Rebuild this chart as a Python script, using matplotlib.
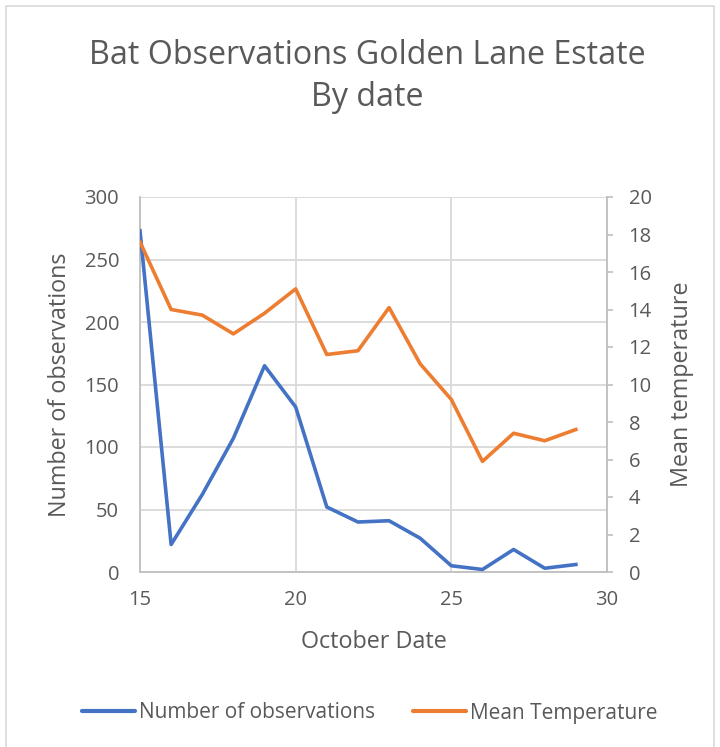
import matplotlib
matplotlib.use("Agg")
import matplotlib.pyplot as plt
from matplotlib.patches import Rectangle
from matplotlib.lines import Line2D

plt.rcParams['font.family'] = ['Open Sans', 'DejaVu Sans']

dates = [15, 16, 17, 18, 19, 20, 21, 22, 23, 24, 25, 26, 27, 28, 29]
observations = [273, 22, 62, 107, 165, 132, 52, 40, 41, 27, 5, 2, 18, 3, 6]
mean_temp = [17.6, 14.0, 13.7, 12.7, 13.8, 15.1, 11.6, 11.8, 14.1, 11.1, 9.2, 5.9, 7.4, 7.0, 7.6]
x_ticks = [15, 20, 25, 30]
left_ticks = [0, 50, 100, 150, 200, 250, 300]
right_ticks = [0, 2, 4, 6, 8, 10, 12, 14, 16, 18, 20]

BLUE = '#4472C4'
ORANGE = '#ED7D31'
TXT = '#595959'
GRID = '#D9D9D9'
SPINE = '#BFBFBF'
fs = 14.5
fs_lab = 16.8
fs_leg = 15

fig = plt.figure(figsize=(7.2, 7.47), dpi=100)
fig.patches.append(Rectangle((6/720, -0.1), 708/720, 1 - 6/747 + 0.1, transform=fig.transFigure,
                             fill=False, edgecolor='#D9D9D9', linewidth=1.2))

ax = fig.add_axes([140/720, 1 - 572/747, (607 - 140)/720, (572 - 197)/747])
ax2 = ax.twinx()

ax.plot(dates, observations, color=BLUE, linewidth=2.6, solid_joinstyle='round', zorder=3)
ax2.plot(dates, mean_temp, color=ORANGE, linewidth=2.6, solid_joinstyle='round', zorder=3)

ax.set_xlim(15, 30)
ax.set_ylim(0, 300)
ax2.set_ylim(0, 20)
ax.set_xticks(x_ticks)
ax.set_yticks(left_ticks)
ax2.set_yticks(right_ticks)

ax.grid(True, color=GRID, linewidth=1.3)
ax.set_axisbelow(True)
for s in ['top', 'right']:
    ax.spines[s].set_visible(False)
for s in ['top', 'left', 'bottom']:
    ax2.spines[s].set_visible(False)
for s in ['left', 'bottom']:
    ax.spines[s].set_color(SPINE)
    ax.spines[s].set_linewidth(1.3)
ax2.spines['right'].set_color(SPINE)
ax2.spines['right'].set_linewidth(1.3)

ax.tick_params(axis='y', length=0, pad=15, labelsize=fs, labelcolor=TXT)
ax.tick_params(axis='x', length=0, pad=13, labelsize=fs, labelcolor=TXT)
ax2.tick_params(axis='y', length=4.5, width=1.2, color=SPINE, pad=11, labelsize=fs, labelcolor=TXT)

ax.set_xlabel('October Date', fontsize=fs_lab, color=TXT, labelpad=14)
ax.set_ylabel('Number of observations', fontsize=fs_lab, color=TXT, labelpad=9)
ax2.set_ylabel('Mean temperature', fontsize=fs_lab, color=TXT, labelpad=13)

fig.text(367/720, 1 - 55/747, 'Bat Observations Golden Lane Estate', fontsize=23.2, color=TXT,
         ha='center', va='center')
fig.text(367/720, 1 - 97/747, 'By date', fontsize=23.2, color=TXT, ha='center', va='center')

handles = [Line2D([0], [0], color=BLUE, linewidth=3, solid_capstyle='round'),
           Line2D([0], [0], color=ORANGE, linewidth=3, solid_capstyle='round')]
leg = fig.legend(handles, ['Number of observations', 'Mean Temperature'], loc='center',
                 bbox_to_anchor=(370/720, 1 - 713/747), ncol=2, frameon=False, fontsize=fs_leg,
                 handlelength=2.55, handletextpad=0.2, columnspacing=1.8)
for t in leg.get_texts():
    t.set_color(TXT)

fig.savefig('out.png', dpi=100)
